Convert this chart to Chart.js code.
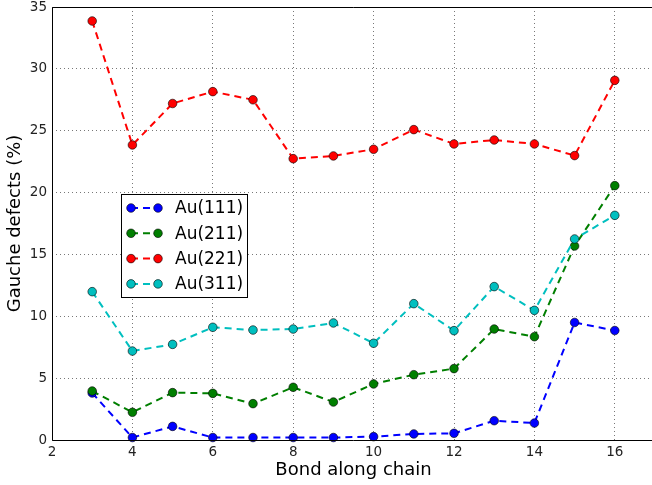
<!DOCTYPE html>
<html>
<head>
<meta charset="utf-8">
<script src="https://cdn.jsdelivr.net/npm/chart.js@4"></script>
<style>
  html, body { margin: 0; padding: 0; background: #fff; overflow: hidden; }
  #marco { width: 652px; height: 485px; overflow: hidden; position: relative; }
  canvas { display: block; position: absolute; left: 0; top: 0; }
</style>
</head>
<body>
<!-- el lienzo es un poco mas ancho que la ventana: el borde derecho queda recortado como en el original -->
<div id="marco"><canvas id="grafico" width="655" height="485"></canvas></div>
<script>
// Datos
const bonds = [3, 4, 5, 6, 7, 8, 9, 10, 11, 12, 13, 14, 15, 16];
const au111 = [3.8, 0.2, 1.1, 0.2, 0.2, 0.2, 0.2, 0.27, 0.49, 0.54, 1.56, 1.37, 9.5, 8.85];
const au211 = [3.96, 2.24, 3.83, 3.77, 2.94, 4.26, 3.07, 4.53, 5.28, 5.77, 8.97, 8.35, 15.68, 20.56];
const au221 = [33.87, 23.85, 27.2, 28.16, 27.5, 22.74, 22.96, 23.5, 25.09, 23.93, 24.25, 23.93, 22.99, 29.07];
const au311 = [11.99, 7.19, 7.73, 9.11, 8.89, 8.97, 9.46, 7.82, 11.02, 8.84, 12.4, 10.48, 16.25, 18.16];
const seriesNames = ['Au(111)', 'Au(211)', 'Au(221)', 'Au(311)'];
const seriesColors = ['#0000ff', '#007f00', '#ff0000', '#00bfbf'];
const xTicks = [2, 4, 6, 8, 10, 12, 14, 16];
const yTicks = [0, 5, 10, 15, 20, 25, 30, 35];

const fuente = "'DejaVu Sans', sans-serif";

function serie(valores, i) {
    return {
        label: seriesNames[i],
        data: bonds.map((b, k) => ({ x: b, y: valores[k] })),
        borderColor: seriesColors[i],
        backgroundColor: seriesColors[i],
        borderWidth: 2,
        borderDash: [7, 5],
        pointRadius: 4.3,
        pointBorderColor: '#000',
        pointBorderWidth: 0.6,
        pointBackgroundColor: seriesColors[i],
        tension: 0,
        clip: false,
        order: 3 - i
    };
}

// Leyenda dentro del area del grafico y marco de ejes
const leyendaPlugin = {
    id: 'leyendaInterna',
    afterDraw(chart) {
        const ctx = chart.ctx;
        const a = chart.chartArea;
        ctx.save();
        // marco (el lado derecho queda fuera de la ventana)
        ctx.strokeStyle = '#000';
        ctx.lineWidth = 1;
        ctx.beginPath();
        ctx.moveTo(a.right, a.top + 0.5);
        ctx.lineTo(a.left + 0.5, a.top + 0.5);
        ctx.lineTo(a.left + 0.5, a.bottom + 0.5);
        ctx.lineTo(a.right, a.bottom + 0.5);
        ctx.stroke();

        // caja de la leyenda
        const bx = 121, by = 194, bw = 126, bh = 103;
        ctx.fillStyle = '#fff';
        ctx.fillRect(bx, by, bw, bh);
        ctx.strokeStyle = '#000';
        ctx.strokeRect(bx + 0.5, by + 0.5, bw, bh);

        ctx.font = '17px ' + fuente;
        ctx.textBaseline = 'middle';
        seriesNames.forEach((nombre, i) => {
            const y = 208 + i * 25.3;
            ctx.strokeStyle = seriesColors[i];
            ctx.lineWidth = 2;
            ctx.setLineDash([7, 5]);
            ctx.beginPath();
            ctx.moveTo(131, y);
            ctx.lineTo(158, y);
            ctx.stroke();
            ctx.setLineDash([]);
            [131, 158].forEach(px => {
                ctx.beginPath();
                ctx.arc(px, y, 4.3, 0, Math.PI * 2);
                ctx.fillStyle = seriesColors[i];
                ctx.fill();
                ctx.lineWidth = 0.6;
                ctx.strokeStyle = '#000';
                ctx.stroke();
            });
            ctx.fillStyle = '#000';
            ctx.fillText(nombre, 175, y + 1);
        });
        ctx.restore();
    }
};

document.addEventListener('DOMContentLoaded', () => {
    new Chart(document.getElementById('grafico'), {
        type: 'line',
        data: {
            datasets: [serie(au111, 0), serie(au211, 1), serie(au221, 2), serie(au311, 3)]
        },
        options: {
            responsive: false,
            animation: false,
            devicePixelRatio: 1,
            layout: { autoPadding: false, padding: { top: 7, right: 0, left: 0, bottom: 0 } },
            plugins: {
                legend: { display: false },
                tooltip: { enabled: false }
            },
            scales: {
                x: {
                    type: 'linear',
                    min: 2,
                    max: 17,
                    afterBuildTicks: s => { s.ticks = xTicks.map(v => ({ value: v })); },
                    afterFit: s => { s.height = 45; s.paddingLeft = 0; s.paddingRight = 0; },
                    border: { display: false, dash: [1, 3] },
                    grid: { color: '#555', drawTicks: false, lineWidth: 0.8 },
                    ticks: { font: { family: fuente, size: 13.5 }, color: '#222', padding: 4, maxRotation: 0 },
                    title: { display: true, text: 'Bond along chain', font: { family: fuente, size: 18 }, color: '#000', padding: { top: 0, bottom: 4 } }
                },
                y: {
                    min: 0,
                    max: 35,
                    afterBuildTicks: s => { s.ticks = yTicks.map(v => ({ value: v })); },
                    afterFit: s => { s.width = 52; s.paddingTop = 0; s.paddingBottom = 0; },
                    border: { display: false, dash: [1, 3] },
                    grid: { color: '#555', drawTicks: false, lineWidth: 0.8 },
                    ticks: { font: { family: fuente, size: 13.5 }, color: '#222', padding: 5 },
                    title: { display: true, text: 'Gauche defects (%)', font: { family: fuente, size: 18 }, color: '#000', padding: { top: 5, bottom: 0 } }
                }
            }
        },
        plugins: [leyendaPlugin]
    });
});
</script>
</body>
</html>
